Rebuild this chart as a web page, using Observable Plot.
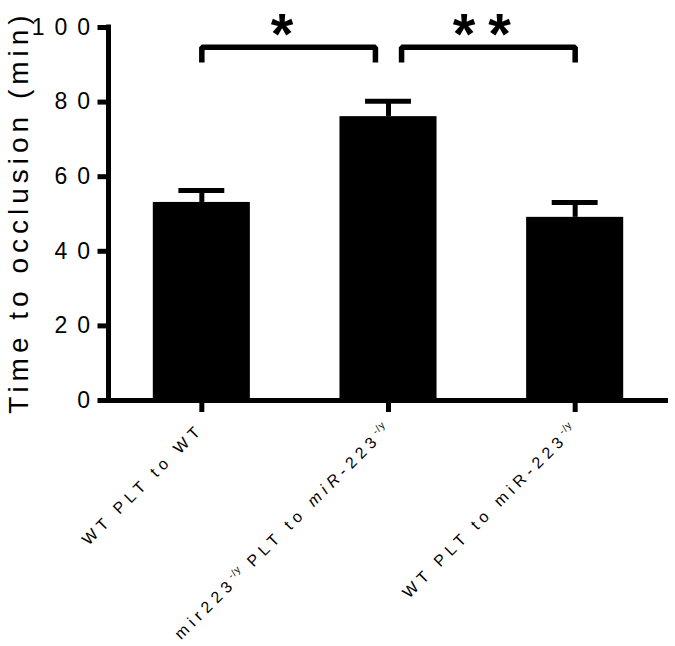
<!DOCTYPE html>
<html>
<head>
<meta charset="utf-8">
<script src="https://cdn.jsdelivr.net/npm/d3@7"></script>
<script src="https://cdn.jsdelivr.net/npm/@observablehq/plot@0.6"></script>
<style>
  html, body { margin: 0; padding: 0; background: #fff; }
  #chart svg { display: block; }
</style>
</head>
<body>
<div id="chart"></div>
<script>
// ---- data ----
const categories = ["WT PLT to WT", "mir223-/y PLT to miR-223-/y", "WT PLT to miR-223-/y"];
const means = [53.1, 76.1, 49.1];
const sems = [3.2, 4.1, 4.0];
const yTicks = [0, 20, 40, 60, 80, 100];
const yLabel = "Time to occlusion (min)";
// rich-text parts of the category labels: [text, style]
const labelParts = [
  [["WT PLT to WT", ""]],
  [["mir223", ""], ["-/y", "sup"], [" PLT to ", ""], ["miR", "it"], ["-223", ""], ["-/y", "sup"]],
  [["WT PLT to miR-223", ""], ["-/y", "sup"]]
];
// significance brackets (group index positions)
const bracketFrom = [0, 1.07];
const bracketTo = [0.93, 2];
const bracketTop = [94.7, 94.7];
const bracketEnd = [90.6, 90.6];
const bracketLabel = ["*", "**"];

// ---- build ----
const idx = categories.map((d, i) => i);
const barHalf = 0.26, capHalf = 0.123;
const bracketPaths = [];
bracketFrom.forEach((f, k) => {
  bracketPaths.push({k, x: f, y: bracketEnd[k]});
  bracketPaths.push({k, x: f, y: bracketTop[k]});
  bracketPaths.push({k, x: bracketTo[k], y: bracketTop[k]});
  bracketPaths.push({k, x: bracketTo[k], y: bracketEnd[k]});
});
const stars = bracketLabel.map((t, k) => ({x: (bracketFrom[k] + bracketTo[k]) / 2, y: 100, t}));

const font = "'Liberation Sans', Arial, Helvetica, sans-serif";

const chart = Plot.plot({
  width: 675,
  height: 646,
  marginLeft: 108,
  marginRight: 7,
  marginTop: 27,
  marginBottom: 246,
  style: {fontFamily: font, background: "#fff", color: "#000", overflow: "visible"},
  x: {type: "linear", domain: [-0.5, 2.5], axis: null},
  y: {domain: [0, 100], axis: null},
  marks: [
    Plot.rectY(idx, {x1: i => i - barHalf, x2: i => i + barHalf, y1: 0, y2: i => means[i], fill: "#000"}),
    Plot.ruleX(idx, {x: i => i, y1: i => means[i], y2: i => means[i] + sems[i], stroke: "#000", strokeWidth: 5}),
    Plot.ruleY(idx, {y: i => means[i] + sems[i], x1: i => i - capHalf, x2: i => i + capHalf, stroke: "#000", strokeWidth: 5}),
    Plot.axisY({ticks: yTicks, tickSize: 10.5, tickPadding: 1, strokeWidth: 5, fontSize: 23, label: null}),
    Plot.axisX({ticks: [0, 1, 2], tickSize: 12, tickPadding: 14, strokeWidth: 5, tickRotate: -45,
      tickFormat: i => categories[i], fontSize: 16, label: null}),
    Plot.ruleX([-0.5], {y1: 0, y2: 100, stroke: "#000", strokeWidth: 5, strokeLinecap: "square"}),
    Plot.ruleY([0], {x1: -0.5, x2: 2.5, stroke: "#000", strokeWidth: 5}),
    Plot.line(bracketPaths, {x: "x", y: "y", z: "k", stroke: "#000", strokeWidth: 5.5, strokeLinejoin: "miter", strokeLinecap: "butt"}),
    Plot.text(stars, {x: "x", y: "y", text: "t", fontSize: 58, fontWeight: "bold", textAnchor: "middle", lineAnchor: "middle", dy: 8, fill: "#000"}),
    Plot.text([yLabel], {frameAnchor: "left", rotate: -90, textAnchor: "middle", lineAnchor: "bottom", dx: -81, dy: -2, fontSize: 28, fill: "#000"})
  ]
});

document.getElementById("chart").appendChild(chart);

const svg = d3.select(chart);
// y tick labels: wide letter spacing, right edge of the digits just left of the ticks
const yls = 10;
svg.selectAll('g[aria-label="y-axis tick label"] text').each(function() {
  const el = d3.select(this).style("letter-spacing", yls + "px");
  const len = this.getComputedTextLength();
  el.attr("text-anchor", "start").attr("x", -7 - (len - yls));
});
const textGroups = svg.selectAll('g[aria-label="text"]').nodes();
if (textGroups[0]) d3.select(textGroups[0]).selectAll("text").style("letter-spacing", "13px");
if (textGroups[1]) d3.select(textGroups[1]).selectAll("text").style("letter-spacing", "5px");
svg.selectAll('g[aria-label="x-axis tick label"] text').each(function(d, j) {
  const el = d3.select(this);
  const parts = labelParts[j] || [[el.text(), ""]];
  const tf = el.attr("transform") || "";
  el.attr("transform", `translate(-1,0) ${tf}`);
  el.text(null).style("letter-spacing", "5px").style("white-space", "pre");
  let raised = false;
  parts.forEach(([t, s]) => {
    const ts = el.append("tspan").text(t);
    if (s === "sup") {
      ts.attr("font-size", 10).style("letter-spacing", "1px");
      if (!raised) ts.attr("dy", -7);
      raised = true;
    } else {
      if (raised) ts.attr("dy", 7);
      raised = false;
      if (s === "it") ts.attr("font-style", "italic");
    }
  });
});
</script>
</body>
</html>
